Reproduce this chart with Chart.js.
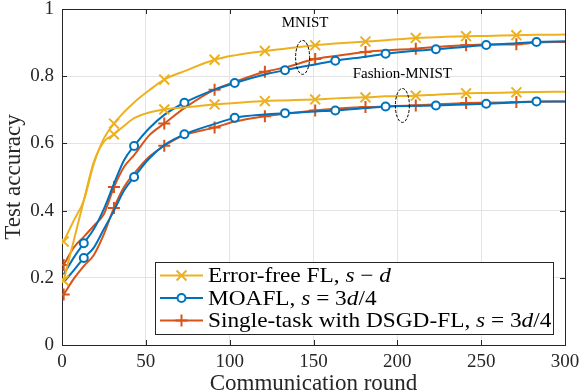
<!DOCTYPE html>
<html>
<head>
<meta charset="utf-8">
<script src="https://cdn.jsdelivr.net/npm/chart.js@4.4.1/dist/chart.umd.min.js"></script>
<style>
  html, body { margin: 0; padding: 0; background: #fff; }
  #wrap { width: 580px; height: 392px; }
</style>
</head>
<body>
<div id="wrap"><canvas id="myChart" width="580" height="392"></canvas></div>
<script>
// communication rounds where values were read
const rounds = [1, 7, 13, 19, 25, 31, 37, 43, 52, 61, 73, 91, 103, 121, 133, 151, 163, 181, 193, 211, 223, 241, 253, 271, 283, 300];

// Error-free FL, s = d
const errFreeMnist   = [0.308, 0.37, 0.43, 0.54, 0.615, 0.659, 0.693, 0.722, 0.758, 0.79, 0.815, 0.849, 0.862, 0.875, 0.882, 0.892, 0.897, 0.903, 0.907, 0.914, 0.916, 0.919, 0.920, 0.922, 0.923, 0.924];
const errFreeFashion = [0.192, 0.31, 0.43, 0.545, 0.605, 0.627, 0.652, 0.675, 0.692, 0.701, 0.707, 0.716, 0.72, 0.726, 0.728, 0.731, 0.734, 0.737, 0.74, 0.742, 0.745, 0.749, 0.75, 0.752, 0.753, 0.754];
// MOAFL, s = 3d/4
const moaflMnist     = [0.21, 0.26, 0.303, 0.345, 0.405, 0.48, 0.55, 0.592, 0.645, 0.685, 0.721, 0.76, 0.78, 0.805, 0.818, 0.835, 0.846, 0.858, 0.867, 0.876, 0.88, 0.888, 0.893, 0.898, 0.902, 0.904];
const moaflFashion   = [0.187, 0.222, 0.259, 0.29, 0.345, 0.40, 0.46, 0.50, 0.555, 0.595, 0.627, 0.658, 0.676, 0.686, 0.69, 0.695, 0.698, 0.705, 0.71, 0.712, 0.713, 0.716, 0.718, 0.722, 0.725, 0.725];
// Single-task with DSGD-FL, s = 3d/4
const singleMnist    = [0.238, 0.29, 0.322, 0.355, 0.39, 0.47, 0.53, 0.565, 0.624, 0.659, 0.705, 0.76, 0.783, 0.813, 0.826, 0.851, 0.86, 0.872, 0.877, 0.882, 0.887, 0.892, 0.894, 0.895, 0.9, 0.902];
const singleFashion  = [0.15, 0.197, 0.235, 0.268, 0.33, 0.408, 0.47, 0.51, 0.56, 0.593, 0.625, 0.647, 0.665, 0.681, 0.688, 0.698, 0.703, 0.708, 0.71, 0.713, 0.716, 0.72, 0.721, 0.723, 0.724, 0.725];

// rounds that carry a marker
const markEvery30From1  = [1, 31, 61, 91, 121, 151, 181, 211, 241, 271];
const markEvery30From13 = [13, 43, 73, 103, 133, 163, 193, 223, 253, 283];

const xTicks = [0, 50, 100, 150, 200, 250, 300];
const yTicks = [0, 0.2, 0.4, 0.6, 0.8, 1];

const legendLabels = [
  [{ t: 'Error-free FL, ' }, { t: 's', i: true }, { t: ' \u2212 ' }, { t: 'd', i: true }],
  [{ t: 'MOAFL, ' }, { t: 's', i: true }, { t: ' = 3' }, { t: 'd', i: true }, { t: '/4' }],
  [{ t: 'Single-task with DSGD-FL, ' }, { t: 's', i: true }, { t: ' = 3' }, { t: 'd', i: true }, { t: '/4' }]
];

const YELLOW = '#EDB120', BLUE = '#0072BD', RED = '#D95319';
const FONT = '"Liberation Serif", "DejaVu Serif", serif';

function series(vals) {
  return rounds.map((r, i) => ({ x: r, y: vals[i] }));
}

function makeSet(vals, color, style, radius, marks, bg) {
  return {
    data: series(vals),
    borderColor: color,
    backgroundColor: bg || color,
    borderWidth: 2,
    cubicInterpolationMode: 'monotone',
    pointStyle: style,
    pointBorderColor: color,
    pointBackgroundColor: bg || color,
    pointBorderWidth: 2,
    pointRadius: ctx => marks.includes(rounds[ctx.dataIndex]) ? radius : 0,
    pointHoverRadius: 0
  };
}

const datasets = [
  makeSet(errFreeMnist, YELLOW, 'crossRot', 7, markEvery30From1),
  makeSet(errFreeFashion, YELLOW, 'crossRot', 7, markEvery30From1),
  makeSet(moaflMnist, BLUE, 'circle', 4, markEvery30From13, '#fff'),
  makeSet(moaflFashion, BLUE, 'circle', 4, markEvery30From13, '#fff'),
  makeSet(singleMnist, RED, 'cross', 6, markEvery30From1),
  makeSet(singleFashion, RED, 'cross', 6, markEvery30From1)
];

// box with inward ticks, like the matlab axes
const boxPlugin = {
  id: 'box',
  beforeDatasetsDraw(chart) {
    const { ctx, chartArea: a, scales: { x, y } } = chart;
    ctx.save();
    ctx.strokeStyle = '#262626';
    ctx.lineWidth = 1;
    ctx.beginPath();
    xTicks.forEach(v => {
      const px = Math.round(x.getPixelForValue(v)) + 0.5;
      ctx.moveTo(px, a.bottom); ctx.lineTo(px, a.bottom - 5);
      ctx.moveTo(px, a.top); ctx.lineTo(px, a.top + 5);
    });
    yTicks.forEach(v => {
      const py = Math.round(y.getPixelForValue(v)) + 0.5;
      ctx.moveTo(a.left, py); ctx.lineTo(a.left + 5, py);
      ctx.moveTo(a.right, py); ctx.lineTo(a.right - 5, py);
    });
    ctx.stroke();
    ctx.strokeRect(Math.round(a.left) + 0.5, Math.round(a.top) + 0.5, Math.round(a.width), Math.round(a.height));
    ctx.restore();
  }
};

// ellipses + dataset names
const notePlugin = {
  id: 'notes',
  afterDatasetsDraw(chart) {
    const { ctx, scales: { x, y } } = chart;
    ctx.save();
    ctx.strokeStyle = '#000';
    ctx.lineWidth = 1;
    ctx.setLineDash([3, 1.5]);
    [[143.5, 0.856], [203, 0.713]].forEach(([ex, ey]) => {
      ctx.beginPath();
      ctx.ellipse(x.getPixelForValue(ex), y.getPixelForValue(ey), 7, 17, 0, 0, Math.PI * 2);
      ctx.stroke();
    });
    ctx.setLineDash([]);
    ctx.fillStyle = '#000';
    ctx.font = '15px ' + FONT;
    ctx.textAlign = 'center';
    ctx.textBaseline = 'alphabetic';
    ctx.fillText('MNIST', x.getPixelForValue(145), y.getPixelForValue(0.945));
    ctx.fillText('Fashion-MNIST', x.getPixelForValue(203), y.getPixelForValue(0.795));
    ctx.restore();
  }
};

const legendPlugin = {
  id: 'myLegend',
  afterDraw(chart) {
    const { ctx } = chart;
    const bx = 155.5, by = 262.5, bw = 398, bh = 72;
    ctx.save();
    ctx.fillStyle = '#fff';
    ctx.fillRect(bx, by, bw, bh);
    ctx.strokeStyle = '#262626';
    ctx.lineWidth = 1;
    ctx.strokeRect(bx, by, bw, bh);
    const rowsY = [275.5, 298, 320.5];
    const sets = [datasets[0], datasets[2], datasets[4]];
    const radii = [7, 4, 6];
    sets.forEach((ds, k) => {
      const yy = rowsY[k];
      ctx.strokeStyle = ds.borderColor;
      ctx.lineWidth = 2;
      ctx.beginPath();
      ctx.moveTo(160, yy); ctx.lineTo(203, yy);
      ctx.stroke();
      ctx.fillStyle = ds.pointBackgroundColor;
      if (ds.pointStyle === 'circle') {
        ctx.beginPath(); ctx.arc(181.5, yy, radii[k], 0, Math.PI * 2); ctx.fill(); ctx.stroke();
      } else {
        Chart.helpers.drawPoint(ctx, { pointStyle: ds.pointStyle, radius: radii[k], borderWidth: 2, rotation: 0 }, 181.5, yy);
      }
      // the reference uses a wider serif face, so stretch the text a bit
      ctx.save();
      ctx.translate(208, yy + 1);
      ctx.scale(1.11, 1);
      let tx = 0;
      ctx.fillStyle = '#000';
      ctx.textBaseline = 'middle';
      ctx.textAlign = 'left';
      legendLabels[k].forEach(p => {
        ctx.font = (p.i ? 'italic ' : '') + '21px ' + FONT;
        ctx.fillText(p.t, tx, 0);
        tx += ctx.measureText(p.t).width;
      });
      ctx.restore();
    });
    ctx.restore();
  }
};

new Chart(document.getElementById('myChart').getContext('2d'), {
  type: 'line',
  data: { datasets },
  options: {
    responsive: false,
    animation: false,
    events: [],
    layout: { padding: { top: 6, right: 15, left: 0, bottom: 0 } },
    plugins: { legend: { display: false }, tooltip: { enabled: false } },
    scales: {
      x: {
        type: 'linear', min: 0, max: 300,
        afterBuildTicks: s => { s.ticks = xTicks.map(v => ({ value: v })); },
        afterFit: s => { s.height = 47; s.paddingLeft = 0; s.paddingRight = 0; },
        grid: { color: '#e3e3e3', drawTicks: false },
        border: { display: false },
        ticks: { color: '#262626', padding: 6, font: { family: FONT, size: 19 }, maxRotation: 0 },
        title: { display: true, text: 'Communication round', color: '#262626', font: { family: FONT, size: 23 }, padding: { top: 0, bottom: -6 } }
      },
      y: {
        min: 0, max: 1,
        afterBuildTicks: s => { s.ticks = yTicks.map(v => ({ value: v })); },
        afterFit: s => { s.width = 62; s.paddingTop = 0; s.paddingBottom = 0; },
        grid: { color: '#e3e3e3', drawTicks: false },
        border: { display: false },
        ticks: {
          color: '#262626', padding: 8, font: { family: FONT, size: 19 },
          callback: v => (v === 0 || v === 1) ? String(v) : v.toFixed(1)
        },
        title: { display: true, text: 'Test accuracy', color: '#262626', font: { family: FONT, size: 23 }, padding: { top: 0, bottom: 0 } }
      }
    }
  },
  plugins: [boxPlugin, notePlugin, legendPlugin]
});
</script>
</body>
</html>
